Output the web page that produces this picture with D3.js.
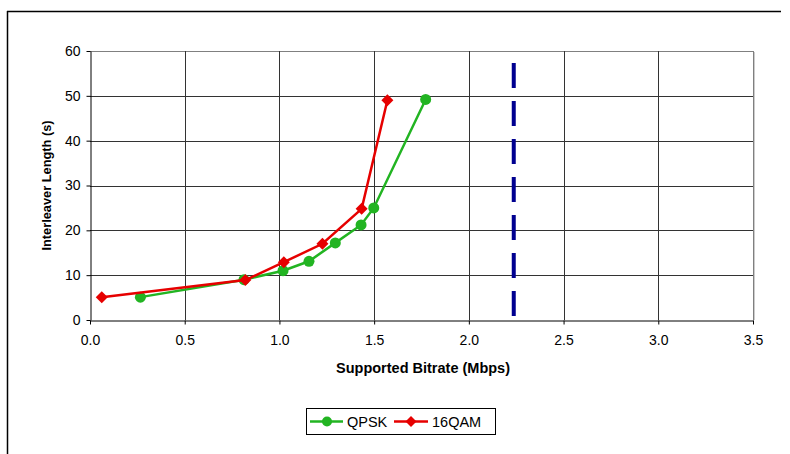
<!DOCTYPE html>
<html><head><meta charset="utf-8">
<script src="https://cdn.jsdelivr.net/npm/d3@7"></script>
<style>body{margin:0;background:#fff;} svg{display:block;font-family:Arial,"Liberation Sans",sans-serif;}</style>
</head><body>
<script>
const qpskX = [0.266, 0.813, 1.019, 1.156, 1.295, 1.431, 1.498, 1.772];
const qpskY = [5.1, 9.0, 11.0, 13.1, 17.2, 21.2, 25.0, 49.2];
const qamX = [0.062, 0.82, 1.023, 1.227, 1.434, 1.57];
const qamY = [5.1, 8.9, 12.9, 17.0, 24.8, 49.0];
const limitX = 2.237;
const xTicks = [0, 0.5, 1.0, 1.5, 2.0, 2.5, 3.0, 3.5];
const yTicks = [0, 10, 20, 30, 40, 50, 60];
const seriesNames = ["QPSK", "16QAM"];

const W = 790, H = 454;
const svg = d3.select("body").append("svg").attr("width", W).attr("height", H);
const L = 90, R = 753, T = 51, B = 320;
const x = d3.scaleLinear().domain([0, 3.5]).range([L, R]);
const y = d3.scaleLinear().domain([0, 60]).range([B, T]);

// outer frame (left + top)
svg.append("line").attr("x1", 7.5).attr("x2", 7.5).attr("y1", 11).attr("y2", H).attr("stroke", "#000").attr("stroke-width", 1.5);
svg.append("line").attr("x1", 7).attr("x2", 781).attr("y1", 11.5).attr("y2", 11.5).attr("stroke", "#000").attr("stroke-width", 1.5);

// gridlines
const g = svg.append("g");
g.selectAll(".hg").data(yTicks.filter(d => d > 0)).enter().append("line")
  .attr("x1", L).attr("x2", R).attr("y1", d => Math.round(y(d)) + 0.5).attr("y2", d => Math.round(y(d)) + 0.5)
  .attr("stroke", d => d === 60 ? "#808080" : "#333").attr("stroke-width", 1);
g.selectAll(".vg").data(xTicks.filter(d => d > 0)).enter().append("line")
  .attr("y1", T).attr("y2", B).attr("x1", d => Math.round(x(d)) + 0.5).attr("x2", d => Math.round(x(d)) + 0.5)
  .attr("stroke", d => d === 3.5 ? "#808080" : "#333").attr("stroke-width", 1);
svg.append("line").attr("x1", R + 1.5).attr("x2", R + 1.5).attr("y1", T + 1).attr("y2", B).attr("stroke", "#ccc");

// axes
const xAxis = d3.axisBottom(x).tickValues(xTicks).tickFormat(d3.format(".1f")).tickSize(4).tickSizeOuter(0);
const yAxis = d3.axisLeft(y).tickValues(yTicks).tickFormat(d3.format("d")).tickSize(4).tickSizeOuter(0);
const gx = svg.append("g").attr("transform", `translate(0,${Math.round(B) + 0.5})`).call(xAxis);
const gy = svg.append("g").attr("transform", `translate(${L + 0.5},0)`).call(yAxis);
[gx, gy].forEach(a => {
  a.select(".domain").attr("stroke", "#000");
  a.selectAll(".tick line").attr("stroke", "#000");
  a.selectAll("text").attr("font-size", 14).attr("fill", "#000").attr("font-family", "Arial, 'Liberation Sans', sans-serif");
});
gx.selectAll("text").attr("dy", "0.71em").attr("y", 15);
gy.selectAll("text").attr("x", -10);

// titles
svg.append("text").attr("x", 423).attr("y", 373).attr("text-anchor", "middle")
  .attr("font-size", 14.5).attr("font-weight", "bold").text("Supported Bitrate (Mbps)");
svg.append("text").attr("transform", `translate(51,${(T + B) / 2}) rotate(-90)`).attr("text-anchor", "middle")
  .attr("font-size", 12.8).attr("font-weight", "bold").text("Interleaver Length (s)");

// limit line
svg.append("line").attr("x1", x(limitX)).attr("x2", x(limitX)).attr("y1", y(0)).attr("y2", y(60))
  .attr("stroke", "#000090").attr("stroke-width", 4).attr("stroke-dasharray", "25,13").attr("stroke-dashoffset", 34);

const green = "#22b422", red = "#e60000";
const line = d3.line().x(d => x(d[0])).y(d => y(d[1]));
const qpsk = qpskX.map((v, i) => [v, qpskY[i]]);
const qam = qamX.map((v, i) => [v, qamY[i]]);

function diamond(sel, s) {
  return sel.attr("d", `M0,${-s}L${s},0L0,${s}L${-s},0Z`);
}

svg.append("path").datum(qpsk).attr("d", line).attr("fill", "none").attr("stroke", green).attr("stroke-width", 2.5);
svg.selectAll(".cq").data(qpsk).enter().append("circle")
  .attr("cx", d => x(d[0])).attr("cy", d => y(d[1])).attr("r", 5.5).attr("fill", green);

svg.append("path").datum(qam).attr("d", line).attr("fill", "none").attr("stroke", red).attr("stroke-width", 2.5);
svg.selectAll(".dq").data(qam).enter().append("path")
  .attr("transform", d => `translate(${x(d[0])},${y(d[1])})`).call(diamond, 6).attr("fill", red);

// legend
const lg = svg.append("g");
lg.append("rect").attr("x", 306.5).attr("y", 408.5).attr("width", 189).attr("height", 26).attr("fill", "#fff").attr("stroke", "#000");
lg.append("line").attr("x1", 310).attr("x2", 343).attr("y1", 421.5).attr("y2", 421.5).attr("stroke", green).attr("stroke-width", 2.5);
lg.append("circle").attr("cx", 327).attr("cy", 421.5).attr("r", 5).attr("fill", green);
lg.append("text").attr("x", 347).attr("y", 426.5).attr("font-size", 14.5).text(seriesNames[0]);
lg.append("line").attr("x1", 394).attr("x2", 428).attr("y1", 421.5).attr("y2", 421.5).attr("stroke", red).attr("stroke-width", 2.5);
lg.append("path").attr("transform", "translate(411,421.5)").call(diamond, 5.5).attr("fill", red);
lg.append("text").attr("x", 432).attr("y", 426.5).attr("font-size", 14.5).text(seriesNames[1]);
</script>
</body></html>
